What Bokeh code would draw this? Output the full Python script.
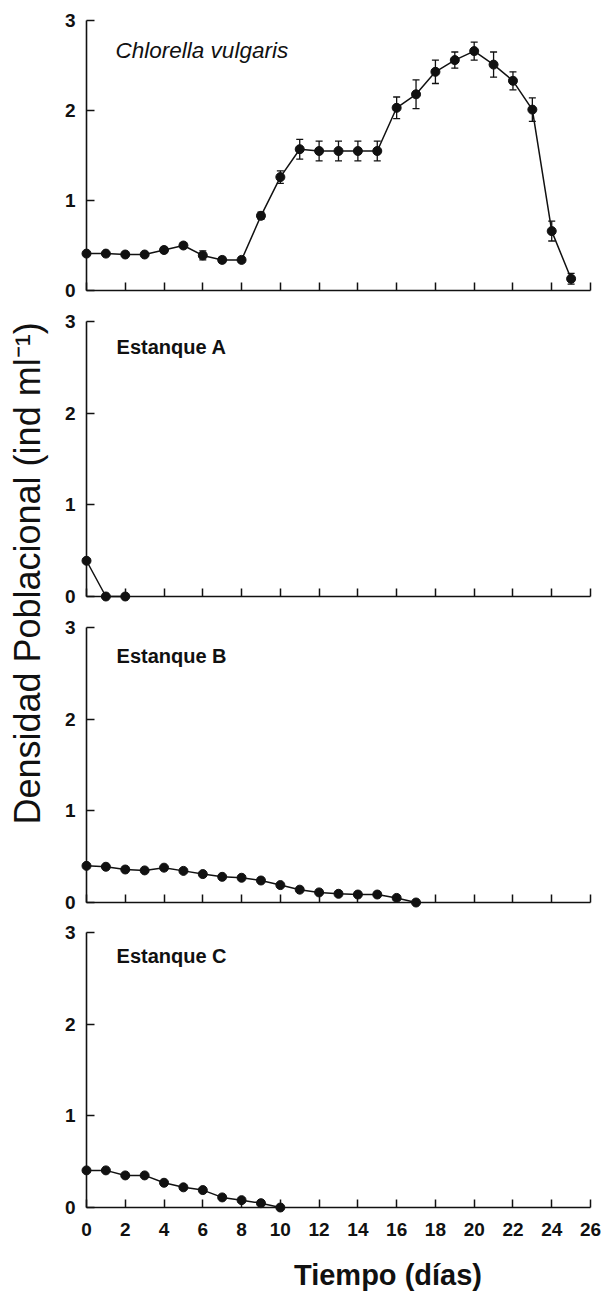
import math
from bokeh.plotting import figure
from bokeh.layouts import row, column
from bokeh.models import Range1d, FixedTicker, Label, Whisker, TeeHead, ColumnDataSource
from bokeh.core.properties import value
from bokeh.embed import file_html
from bokeh.resources import INLINE

# ---------------- data ----------------
days_chlorella = list(range(26))
chlorella = [0.41, 0.41, 0.40, 0.40, 0.45, 0.50, 0.39, 0.34, 0.34, 0.83,
             1.26, 1.57, 1.55, 1.55, 1.55, 1.55, 2.03, 2.18, 2.43, 2.56,
             2.66, 2.51, 2.33, 2.01, 0.66, 0.13]
chlorella_err = [0.02, 0.02, 0.02, 0.02, 0.03, 0.03, 0.05, 0.03, 0.03, 0.04,
                 0.07, 0.11, 0.11, 0.11, 0.11, 0.11, 0.12, 0.16, 0.13, 0.09,
                 0.10, 0.14, 0.10, 0.13, 0.11, 0.06]
days_a = [0, 1, 2]
estanque_a = [0.39, 0.0, 0.0]
days_b = list(range(18))
estanque_b = [0.40, 0.39, 0.36, 0.35, 0.38, 0.345, 0.31, 0.28, 0.27, 0.24,
              0.19, 0.14, 0.11, 0.095, 0.087, 0.087, 0.05, 0.0]
days_c = list(range(11))
estanque_c = [0.405, 0.405, 0.35, 0.35, 0.27, 0.22, 0.19, 0.11, 0.08, 0.047, 0.0]

x_ticks = list(range(0, 27, 2))
y_ticks = [0, 1, 2, 3]
panel_titles = ["Chlorella vulgaris", "Estanque A", "Estanque B", "Estanque C"]
x_label = "Tiempo (días)"
y_label = "Densidad Poblacional (ind ml\u207b\u00b9)"

FONT = "Liberation Sans"
INK = "#111111"


def make_panel(h, bt, bb, last):
    p = figure(width=555, height=h,
               x_range=Range1d(0, 26), y_range=Range1d(0, 3),
               toolbar_location=None, output_backend="svg",
               min_border_left=36, min_border_right=15,
               min_border_top=bt, min_border_bottom=bb)
    p.grid.visible = False
    p.outline_line_color = None
    p.background_fill_color = "white"
    p.border_fill_color = "white"
    xa = p.xaxis[0]
    ya = p.yaxis[0]
    for ax in (xa, ya):
        ax.axis_line_width = 1.6
        ax.axis_line_color = INK
        ax.major_tick_line_width = 1.5
        ax.major_tick_line_color = INK
        ax.major_tick_in = 8
        ax.major_tick_out = 0
        ax.minor_tick_line_color = None
        ax.major_label_text_font = FONT
        ax.major_label_text_font_style = "bold"
        ax.major_label_text_color = INK
    xa.ticker = FixedTicker(ticks=x_ticks)
    ya.ticker = FixedTicker(ticks=y_ticks)
    ya.major_label_text_font_size = "19px"
    ya.major_label_standoff = 11
    if last:
        xa.major_label_text_font_size = "19px"
        xa.major_label_standoff = 15
    else:
        xa.major_label_text_color = None
        xa.major_label_text_font_size = "1px"
        xa.major_label_standoff = 0
    return p


def draw_series(p, xs, ys):
    p.line(xs, ys, line_width=1.5, color=INK, level="overlay")
    p.scatter(xs, ys, size=9, marker="circle", color=INK, level="overlay")


def text_fig(w, h):
    f = figure(width=w, height=h, x_range=Range1d(0, w), y_range=Range1d(0, h),
               toolbar_location=None, output_backend="svg",
               x_axis_location=None, y_axis_location=None, min_border=0)
    f.grid.visible = False
    f.outline_line_color = None
    return f


f1 = make_panel(305, 20, 15, False)
f2 = make_panel(306, 16, 15, False)
f3 = make_panel(306, 16, 15, False)
f4 = make_panel(330, 15, 40, True)

# error bars for Chlorella
src = ColumnDataSource(data=dict(
    x=days_chlorella,
    upper=[v + e for v, e in zip(chlorella, chlorella_err)],
    lower=[v - e for v, e in zip(chlorella, chlorella_err)],
))
wh = Whisker(base="x", upper="upper", lower="lower", source=src,
             line_width=1.3, line_color=INK, level="overlay",
             upper_head=TeeHead(size=7, line_width=1.3, line_color=INK),
             lower_head=TeeHead(size=7, line_width=1.3, line_color=INK))
f1.add_layout(wh)

draw_series(f1, days_chlorella, chlorella)
draw_series(f2, days_a, estanque_a)
draw_series(f3, days_b, estanque_b)
draw_series(f4, days_c, estanque_c)

title_pos = [(1.5, 2.67), (1.55, 2.72), (1.55, 2.69), (1.55, 2.74)]
for p, t, (tx, ty), italic in zip((f1, f2, f3, f4), panel_titles, title_pos,
                                 (True, False, False, False)):
    p.add_layout(Label(x=tx, y=ty, text=t, text_font=FONT,
                       text_font_size="22.5px" if italic else "20px",
                       text_font_style="italic" if italic else "bold",
                       text_color=INK, text_align="left", text_baseline="middle"))

# x-axis title strip (offset to the right as in the original)
xlab = text_fig(555, 44)
xlab.text(x=[332], y=[17], text=[x_label], text_align="center", text_baseline="middle",
          text_font=value(FONT), text_font_size="29px", text_font_style="bold",
          text_color=INK)

# y-axis label strip
lab = text_fig(50, 1291)
lab.text(x=[27], y=[1291 - 573], text=[y_label], angle=math.pi / 2,
         text_align="center", text_baseline="middle",
         text_font=value(FONT), text_font_size="36px", text_color=INK)

layout = row(lab, column(f1, f2, f3, f4, xlab))
open("out.html", "w").write(file_html(layout, INLINE))
